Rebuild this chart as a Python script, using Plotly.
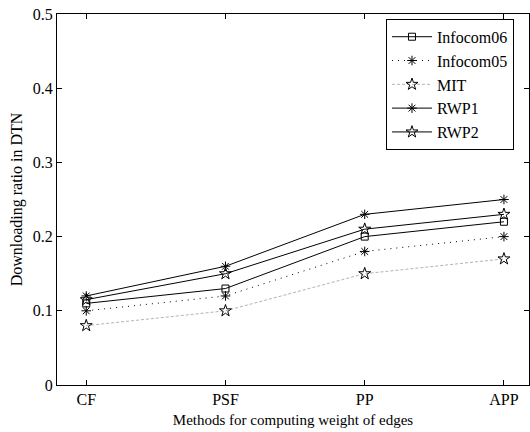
import plotly.graph_objects as go

categories = ["CF", "PSF", "PP", "APP"]
x_pos = [1, 2, 3, 4]
infocom06 = [0.11, 0.13, 0.20, 0.22]
infocom05 = [0.10, 0.12, 0.18, 0.20]
mit = [0.08, 0.10, 0.15, 0.17]
rwp1 = [0.12, 0.16, 0.23, 0.25]
rwp2 = [0.115, 0.15, 0.21, 0.23]
y_ticks = [0, 0.1, 0.2, 0.3, 0.4, 0.5]
y_ticktext = ["0", "0.1", "0.2", "0.3", "0.4", "0.5"]

series = [
    ("Infocom06", infocom06, "square-open", "black", "solid", 7),
    ("Infocom05", infocom05, "asterisk-open", "black", "1px,5px", 8),
    ("MIT", mit, "star-open", "#b4b4b4", "3px,2px", 9),
    ("RWP1", rwp1, "asterisk-open", "black", "solid", 8),
    ("RWP2", rwp2, "star-open", "black", "solid", 9),
]

fig = go.Figure()
for name, vals, sym, col, dash, size in series:
    fig.add_trace(go.Scatter(
        x=x_pos, y=vals, name=name, mode="lines+markers",
        line=dict(color=col, width=1, dash=dash),
        marker=dict(symbol=sym, size=size, color="black",
                    line=dict(color="black", width=1)),
    ))

font = "Liberation Serif"
fig.update_layout(
    width=530, height=432,
    margin=dict(l=57, r=1, t=14, b=47),
    paper_bgcolor="white", plot_bgcolor="white",
    font=dict(family=font, size=15, color="black"),
    showlegend=True,
    legend=dict(x=0.697, y=0.987, xanchor="left", yanchor="top",
                bgcolor="white", bordercolor="black", borderwidth=1,
                font=dict(family=font, size=16, color="black"), tracegroupgap=0,
                itemwidth=40),
    xaxis=dict(range=[0.79, 4.18], tickvals=x_pos, ticktext=categories,
               ticks="inside", ticklen=5, tickcolor="black",
               showline=True, linecolor="black", linewidth=1, mirror="ticks",
               showgrid=False, zeroline=False,
               title=dict(text="Methods for computing weight of edges",
                          font=dict(family=font, size=15, color="black"), standoff=7),
               tickfont=dict(family=font, size=16, color="black")),
    yaxis=dict(range=[0, 0.5], tickvals=y_ticks, ticktext=y_ticktext,
               ticks="inside", ticklen=5, tickcolor="black",
               showline=True, linecolor="black", linewidth=1, mirror="ticks",
               showgrid=False, zeroline=False,
               title=dict(text="Downloading ratio in DTN",
                          font=dict(family=font, size=16, color="black"), standoff=6),
               tickfont=dict(family=font, size=16, color="black")),
)

fig.write_html("out.html")
